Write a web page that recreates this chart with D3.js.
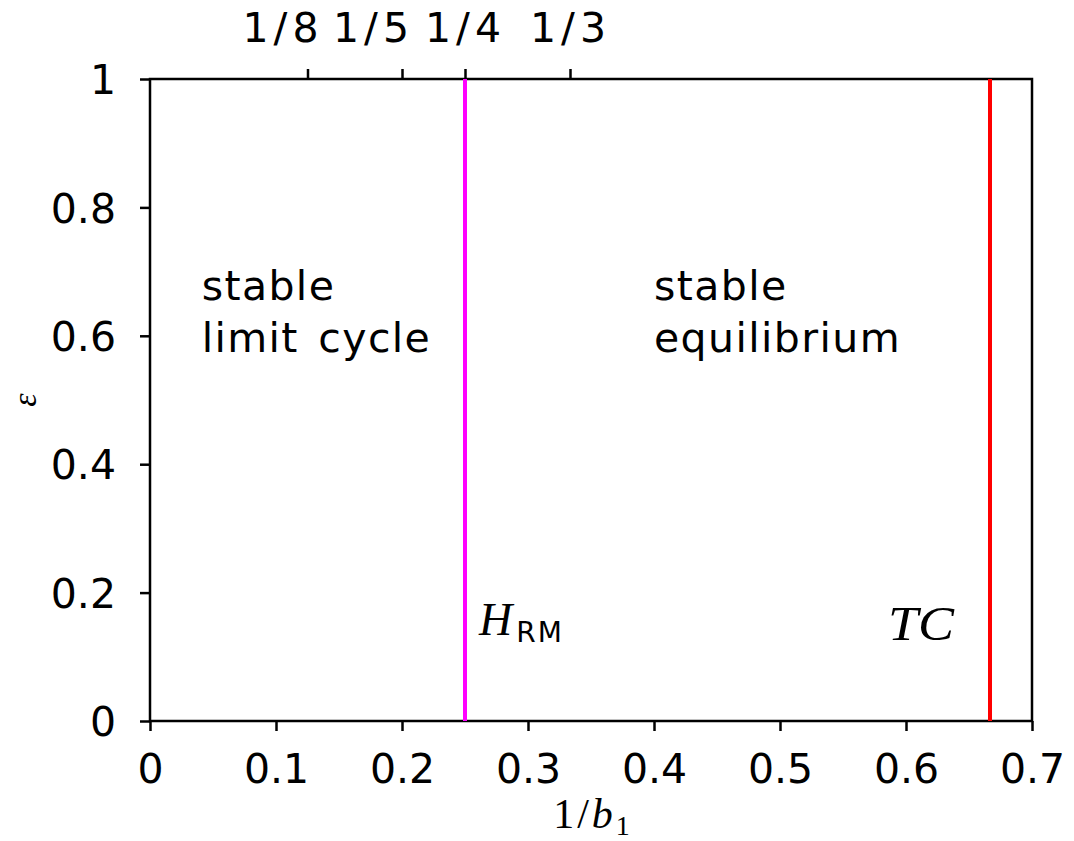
<!DOCTYPE html>
<html>
<head>
<meta charset="utf-8">
<script src="https://cdn.jsdelivr.net/npm/d3@7"></script>
<style>
  html, body { margin: 0; padding: 0; background: #fff; }
  svg text { font-family: "DejaVu Sans", sans-serif; fill: #000; }
  .math { font-family: "Liberation Serif", "DejaVu Serif", serif; font-style: italic; }
</style>
</head>
<body>
<svg id="chart" width="1074" height="841"></svg>
<script>
// Bifurcation boundaries in the (1/b1, epsilon) plane
const xTicks = [0, 0.1, 0.2, 0.3, 0.4, 0.5, 0.6, 0.7];
const yTicks = [0, 0.2, 0.4, 0.6, 0.8, 1];
const topTickValues = [1/8, 1/5, 1/4, 1/3];
const topTickLabels = ["1/8", "1/5", "1/4", "1/3"];
const boundaryNames = ["H_RM", "TC"];
const boundaryX = [0.25, 2/3];
const boundaryColors = ["#ff00ff", "#ff0000"];
const regionLines = [["stable", "limit cycle"], ["stable", "equilibrium"]];
const regionAnchor = [[0.041, 0.655], [0.4, 0.655]];

const svg = d3.select("#chart");
const m = { left: 150, right: 1032, top: 79, bottom: 721 };

const x = d3.scaleLinear().domain([0, 0.7]).range([m.left, m.right]);
const y = d3.scaleLinear().domain([0, 1]).range([m.bottom, m.top]);

const fs = 41;
const fmt = d => d === 0 ? "0" : (d === 1 ? "1" : d3.format(".1f")(d));
// crowded top labels are nudged left so they do not collide
const topLabelShift = [-25, -29, 0, 0];

// bottom axis
const gx = svg.append("g").attr("transform", `translate(0,${m.bottom})`)
  .call(d3.axisBottom(x).tickValues(xTicks).tickFormat(fmt).tickSize(10).tickPadding(23));
// left axis
const gy = svg.append("g").attr("transform", `translate(${m.left},0)`)
  .call(d3.axisLeft(y).tickValues(yTicks).tickFormat(fmt).tickSize(10).tickPadding(24));
// top axis with reciprocal labels
const gt = svg.append("g").attr("transform", `translate(0,${m.top})`)
  .call(d3.axisTop(x).tickValues(topTickValues).tickFormat((d, i) => topTickLabels[i]).tickSize(10).tickPadding(27));

[gx, gy, gt].forEach(g => {
  g.select(".domain").remove();
  g.selectAll(".tick line").attr("stroke", "#000").attr("stroke-width", 2.5);
  g.selectAll(".tick text").attr("font-size", fs).attr("font-family", "DejaVu Sans, sans-serif").attr("fill", "#000");
});
gy.selectAll(".tick text").attr("dy", "0.36em");
gt.selectAll(".tick text").attr("dx", (d, i) => topLabelShift[i]).attr("letter-spacing", 5);

// plot frame
svg.append("rect")
  .attr("x", m.left).attr("y", m.top)
  .attr("width", m.right - m.left).attr("height", m.bottom - m.top)
  .attr("fill", "none").attr("stroke", "#000").attr("stroke-width", 2.5);

// boundary lines
svg.append("g").selectAll("line").data(boundaryX).join("line")
  .attr("x1", d => x(d)).attr("x2", d => x(d))
  .attr("y1", y(0)).attr("y2", y(1))
  .attr("stroke", (d, i) => boundaryColors[i])
  .attr("stroke-width", 4);

// region labels
regionLines.forEach((lines, i) => {
  const t = svg.append("text")
    .attr("x", x(regionAnchor[i][0]))
    .attr("y", y(regionAnchor[i][1]))
    .attr("font-size", fs)
    .attr("letter-spacing", 1.4)
    .attr("word-spacing", 5);
  lines.forEach((l, j) => t.append("tspan").attr("x", x(regionAnchor[i][0])).attr("dy", j === 0 ? 0 : 52).text(l));
});

// H_RM label
const h = svg.append("text").attr("x", x(0.25) + 14).attr("y", 635).attr("font-size", 46);
h.append("tspan").attr("class", "math").text("H");
h.append("tspan").attr("font-family", "DejaVu Sans, sans-serif").attr("font-size", 28)
  .attr("letter-spacing", 2).attr("dy", 7).attr("dx", 4).text("RM");

// TC label
svg.append("text").attr("class", "math")
  .attr("x", 888).attr("y", 640)
  .attr("font-size", 48)
  .attr("textLength", 66).attr("lengthAdjust", "spacingAndGlyphs")
  .text("TC");

// x axis title 1/b1
const xl = svg.append("text").attr("x", x(0.35) + 2).attr("y", 828)
  .attr("text-anchor", "middle").attr("font-size", 42).attr("letter-spacing", 3);
xl.append("tspan").attr("font-family", "Liberation Serif, serif").text("1/");
xl.append("tspan").attr("class", "math").text("b");
xl.append("tspan").attr("font-family", "Liberation Serif, serif").attr("font-size", 28).attr("dy", 7).text("1");

// y axis title epsilon
svg.append("text").attr("class", "math")
  .attr("transform", `translate(36,${y(0.5)}) rotate(-90)`)
  .attr("text-anchor", "middle").attr("font-size", 34).text("ε");
</script>
</body>
</html>
